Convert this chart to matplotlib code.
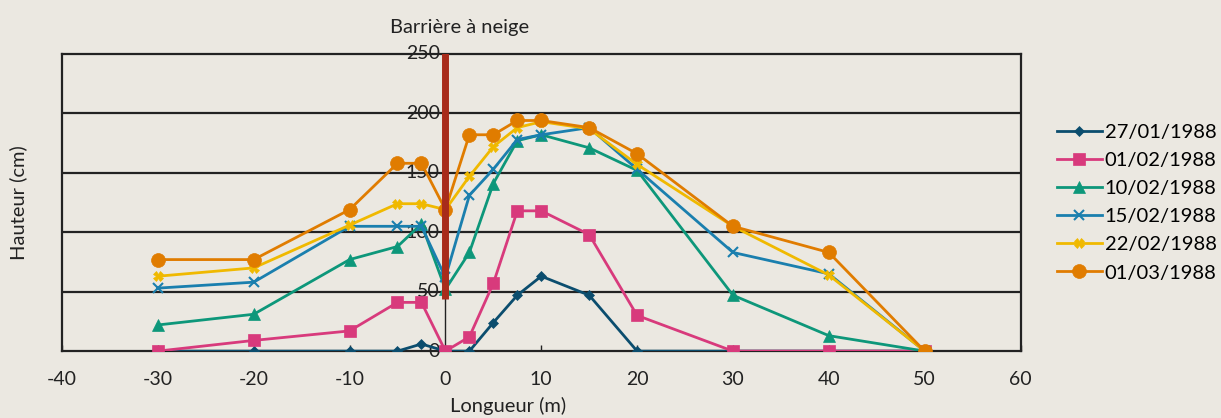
import numpy as np
import matplotlib
matplotlib.use('Agg')
import matplotlib.pyplot as plt

plt.rcParams['font.family'] = ['Lato', 'DejaVu Sans']
plt.rcParams['axes.unicode_minus'] = False

# distances from the snow fence (m)
longueur = [-30, -20, -10, -5, -2.5, 0, 2.5, 5, 7.5, 10, 15, 20, 30, 40, 50]

dates = ['27/01/1988', '01/02/1988', '10/02/1988', '15/02/1988', '22/02/1988', '01/03/1988']
h_2701 = [0, 0, 0, 0, 6, 0, 0, 24, 47, 63, 47, 0, 0, 0, 0]
h_0102 = [0, 9, 17, 41, 41, 0, 12, 57, 118, 118, 98, 30, 0, 0, 0]
h_1002 = [22, 31, 77, 88, 107, 52, 83, 141, 177, 182, 171, 152, 47, 13, 0]
h_1502 = [53, 58, 105, 105, 105, 62, 131, 153, 178, 182, 188, 153, 83, 65, 0]
h_2202 = [63, 70, 106, 124, 124, 119, 147, 172, 188, 193, 187, 157, 105, 64, 0]
h_0103 = [77, 77, 119, 158, 158, 119, 182, 182, 194, 194, 188, 166, 105, 83, 0]
hauteurs = [h_2701, h_0102, h_1002, h_1502, h_2202, h_0103]

couleurs = ['#0b4d6e', '#d83a7c', '#0d977a', '#1a7fae', '#f0b900', '#e07c00']
marqueurs = ['D', 's', '^', 'x', 'X', 'o']
tailles = [5, 9, 8, 7, 7, 10]

bg = '#ebe8e1'
fig = plt.figure(figsize=(12.21, 4.18), dpi=100, facecolor=bg)
ax = fig.add_axes([0.0508, 0.160, 0.785, 0.711])
ax.set_facecolor(bg)

for y in [50, 100, 150, 200]:
    ax.axhline(y, color='#222222', lw=1.6, zorder=1)

# y axis at x = 0
ax.plot([0, 0], [0, 250], color='#222222', lw=1, zorder=2)

for i in range(len(dates)):
    ax.plot(longueur, hauteurs[i], color=couleurs[i], marker=marqueurs[i],
            ms=tailles[i], lw=2, mew=1.5 if marqueurs[i] == 'x' else 0.5,
            mec=couleurs[i], label=dates[i], zorder=3 + i)

# snow fence
ax.plot([0, 0], [44, 252], color='#a82b1b', lw=5, solid_capstyle='butt', zorder=12)
ax.text(1.5, 265, 'Barrière à neige', ha='center', va='bottom', fontsize=14.5,
        color='#222222', clip_on=False)

for y in [0, 50, 100, 150, 200, 250]:
    ax.text(-0.6, y, str(y), ha='right', va='center', fontsize=14,
            color='#222222', zorder=2)

ax.set_xlim(-40, 60)
ax.set_ylim(0, 250)
ax.set_xticks(range(-40, 61, 10))
ax.set_yticks([])
ax.tick_params(axis='x', direction='in', length=4, width=1, labelsize=14,
               pad=14, colors='#222222')
for s in ax.spines.values():
    s.set_color('#222222')
    s.set_linewidth(1.6)

ax.set_xlabel('Longueur (m)', fontsize=14.5, color='#222222')
ax.xaxis.set_label_coords(0.465, -0.155)
ax.set_ylabel('Hauteur (cm)', fontsize=14.5, color='#222222')
ax.yaxis.set_label_coords(-0.036, 0.5)

ax.legend(loc='center left', bbox_to_anchor=(1.03, 0.50), frameon=False,
          fontsize=14.5, handlelength=2.2, handletextpad=0.15, labelspacing=0.55,
          borderaxespad=0)

fig.savefig('out.png', dpi=100, facecolor=bg)
